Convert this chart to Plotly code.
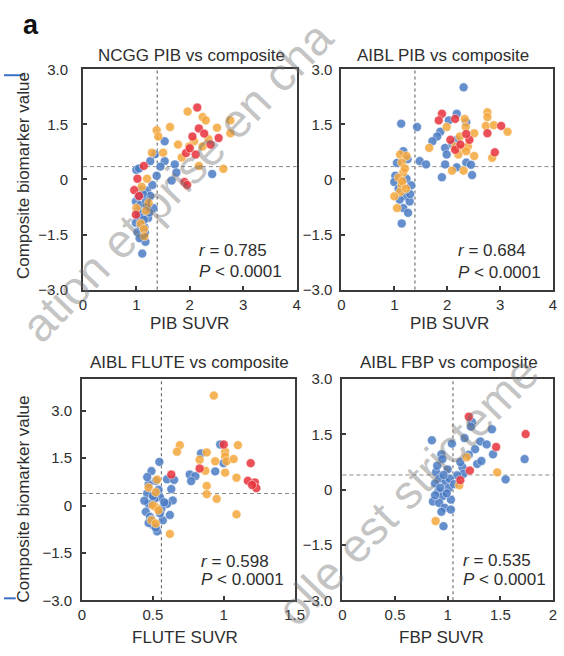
import plotly.graph_objects as go

W, H = 564, 656
def px(x):
    return x / W
def py(y):
    return 1 - y / H

BLUE = "#4a7bc4"
ORANGE = "#f5a73c"
RED = "#e8323c"
FONT = "Liberation Sans, Arial, sans-serif"
INK = "#2e2e2e"

# ---------------- data ----------------
# Panel 1: NCGG PIB vs composite
ncgg_blue_x = [1.53, 1.35, 1.26, 1.53, 1.72, 1.00, 1.75, 2.42, 1.66, 1.05, 1.10, 0.99, 1.04, 1.32, 1.12,
               0.99, 1.02, 1.13, 1.17, 1.11, 1.20, 1.26, 1.09, 1.38, 1.45, 1.07, 1.22, 1.15, 1.30, 1.05, 1.18,
               1.08, 1.14, 1.03, 1.19, 1.12, 1.06, 1.24, 1.16]
ncgg_blue_y = [1.04, 0.69, 0.50, 0.50, 0.41, 0.26, 0.19, 0.15, -0.03, 0.30, -0.29, -0.60, -0.47, -0.78, -0.90,
               -1.18, -1.44, -1.55, -1.70, -2.02, -0.30, -0.45, -0.95, 0.10, 0.35, -0.70, -1.05, -1.30, -0.15, -1.00, -0.60,
               -1.25, -1.10, -0.85, -0.75, -0.40, -1.60, -0.90, -1.45]
ncgg_orange_x = [1.96, 2.24, 2.30, 2.76, 1.63, 1.38, 2.51, 2.76, 1.41, 2.08, 1.78, 1.99, 1.50, 1.29, 2.17,
                 2.63, 1.20, 1.23, 1.00, 1.08, 1.14, 2.24, 1.10, 1.15, 1.18, 1.85, 2.35]
ncgg_orange_y = [1.85, 1.70, 1.61, 1.61, 1.43, 1.34, 1.41, 1.26, 1.17, 1.04, 0.95, 0.90, 0.73, 0.73, 0.37,
                 0.29, 0.02, -0.64, -0.78, -1.20, -1.35, 0.90, -0.20, -1.55, -0.85, 0.60, 1.10]
ncgg_red_x = [2.14, 2.17, 2.05, 2.54, 2.39, 1.93, 2.11, 1.14, 1.90, 1.95, 0.96, 1.02, 0.99, 2.27, 2.00, 1.05]
ncgg_red_y = [1.96, 1.39, 1.17, 1.13, 0.95, 0.72, 0.68, 0.37, -0.07, -0.15, -0.29, 0.02, -0.96, 1.25, 0.85, -0.45]

# Panel 2: AIBL PIB vs composite
aiblpib_blue_x = [2.31, 1.13, 1.43, 2.18, 2.03, 2.36, 1.87, 1.81, 1.72, 1.96, 1.99, 1.48, 1.60, 1.96, 2.18,
                  1.90, 2.47, 2.36, 2.18, 1.02, 1.00, 1.23, 1.32, 1.20, 1.29, 1.17, 1.26, 1.14, 1.17, 1.08,
                  1.25, 2.10, 2.45, 1.05, 1.30, 1.10]
aiblpib_blue_y = [2.51, 1.52, 1.43, 1.79, 1.61, 1.56, 1.30, 1.17, 1.04, 0.86, 0.68, 0.50, 0.41, 0.41, 0.33,
                  0.06, 0.12, 0.46, 1.08, 0.10, -0.07, 0.02, -0.16, -0.46, -0.60, -0.78, -0.91, -1.20, 0.77, -0.25,
                  0.55, 0.95, 0.40, 0.45, -0.40, -0.55]
aiblpib_orange_x = [1.11, 1.23, 1.14, 1.17, 1.14, 1.11, 1.00, 1.05, 1.66, 1.99, 2.33, 2.35, 2.51, 2.24, 2.15,
                    2.30, 2.39, 2.21, 2.36, 2.51, 2.09, 2.31, 2.76, 2.76, 2.73, 2.88, 3.14, 2.85, 1.20, 1.08,
                    1.15, 1.22]
aiblpib_orange_y = [0.68, 0.64, 0.46, 0.19, -0.16, -0.34, -0.46, -0.78, 0.86, 1.43, 1.65, 1.43, 1.26, 1.17, 0.90,
                    0.86, 0.90, 0.68, 0.77, 0.64, 0.24, 0.24, 1.83, 1.70, 1.46, 1.48, 1.30, 0.59, 0.30, 0.05,
                    -0.05, -0.25]
aiblpib_red_x = [1.90, 1.84, 2.15, 2.06, 2.15, 2.42, 2.76, 3.02, 2.90, 2.36, 2.25]
aiblpib_red_y = [1.79, 1.61, 1.65, 1.08, 0.81, 1.08, 1.26, 1.46, 0.74, 1.24, 0.95]

# Panel 3: AIBL FLUTE vs composite
flute_blue_x = [0.975, 0.84, 0.998, 0.94, 0.76, 0.80, 0.77, 0.546, 0.49, 0.60, 0.65, 0.63, 0.52, 0.47, 0.46,
                0.55, 0.64, 0.47, 0.45, 0.48, 0.57, 0.50, 0.53, 0.60, 0.51, 0.56, 0.49, 0.54, 0.62, 0.46, 0.52,
                0.47, 0.50, 0.55, 0.58, 0.44]
flute_blue_y = [1.93, 1.65, 1.34, 1.08, 0.98, 0.93, 0.77, 1.38, 1.09, 0.83, 0.81, 0.52, 0.78, 0.67, 0.38,
                0.26, 0.16, 0.05, -0.20, -0.36, -0.47, -0.62, -0.82, 0.05, 0.20, -0.10, -0.45, 0.50, -0.30, 0.90, -0.70,
                -0.55, 0.30, -0.25, 0.10, 0.15]
flute_orange_x = [0.93, 0.69, 0.67, 1.10, 0.88, 1.01, 1.01, 1.02, 1.07, 0.94, 0.83, 1.01, 0.87, 1.09, 0.88,
                  0.88, 0.95, 1.09, 0.62, 0.53, 0.47, 0.52, 0.52, 0.49, 0.52, 0.50, 0.54]
flute_orange_y = [3.48, 1.91, 1.70, 1.91, 1.68, 1.70, 1.55, 1.40, 1.47, 1.40, 1.45, 1.04, 1.10, 0.88, 0.62,
                  0.36, 0.21, -0.28, -0.90, 0.82, 0.57, 0.42, -0.05, -0.47, -0.57, 0.00, -0.15]
flute_red_x = [1.00, 0.83, 1.19, 1.17, 1.22, 1.23, 0.63, 1.20]
flute_red_y = [1.93, 1.17, 1.34, 0.78, 0.73, 0.55, 0.98, 0.65]

# Panel 4: AIBL FBP vs composite
fbp_blue_x = [1.23, 1.22, 1.42, 1.16, 0.85, 1.04, 1.31, 1.37, 1.43, 1.73, 1.55, 0.94, 0.95, 1.28, 1.32,
              1.14, 0.89, 0.92, 0.88, 0.98, 1.01, 0.91, 0.95, 1.03, 0.86, 0.92, 0.97, 1.03, 0.96, 1.15, 1.09,
              1.26, 0.90, 1.00, 1.20, 0.93, 0.99, 0.94, 1.02, 0.88, 1.06, 0.96, 1.12]
fbp_blue_y = [1.84, 1.71, 1.64, 1.40, 1.34, 1.25, 1.31, 1.23, 0.96, 0.83, 0.28, 0.96, 0.83, 0.70, 0.78,
              0.61, 0.48, 0.30, 0.17, 0.21, 0.04, -0.05, -0.18, -0.27, -0.32, -0.36, -0.49, -0.54, -0.99, 0.43, 0.39,
              1.10, 0.65, 0.55, 0.95, 0.05, -0.10, -0.60, 0.30, -0.15, 0.15, 0.40, 0.75]
fbp_orange_x = [1.18, 1.47, 1.11, 0.885]
fbp_orange_y = [0.88, 0.47, 0.12, -0.85]
fbp_red_x = [1.20, 1.74, 1.46, 1.21, 1.12]
fbp_red_y = [1.98, 1.51, 1.16, 0.52, 0.26]

panel_titles = ["NCGG PIB vs composite", "AIBL PIB vs composite",
                "AIBL FLUTE vs composite", "AIBL FBP vs composite"]
x_titles = ["PIB SUVR", "PIB SUVR", "FLUTE SUVR", "FBP SUVR"]
y_title = "Composite biomarker value"
r_values = ["0.785", "0.684", "0.598", "0.535"]
p_text = "< 0.0001"
x_thresholds = [1.39, 1.39, 0.56, 1.05]
y_thresholds = [0.35, 0.35, 0.38, 0.40]
x_ranges = [[0, 4], [0, 4], [0, 1.5], [0, 2]]
y_ranges = [[-3, 3], [-3, 3], [-3, 4], [-3, 3]]
x_tickvals = [[0, 1, 2, 3, 4], [0, 1, 2, 3, 4], [0, 0.5, 1, 1.5], [0, 0.5, 1, 1.5, 2]]
x_ticktext = [["0", "1", "2", "3", "4"], ["0", "1", "2", "3", "4"],
              ["0", "0.5", "1", "1.5"], ["0", "0.5", "1", "1.5", "2"]]
y_tickvals = [-3, -1.5, 0, 1.5, 3]
y_ticktext = ["\u22123.0", "\u22121.5", "0", "1.5", "3.0"]
watermark_texts = ["ation et prise en cha", "olle est stricteme"]

series = [
    [(ncgg_blue_x, ncgg_blue_y), (ncgg_orange_x, ncgg_orange_y), (ncgg_red_x, ncgg_red_y)],
    [(aiblpib_blue_x, aiblpib_blue_y), (aiblpib_orange_x, aiblpib_orange_y), (aiblpib_red_x, aiblpib_red_y)],
    [(flute_blue_x, flute_blue_y), (flute_orange_x, flute_orange_y), (flute_red_x, flute_red_y)],
    [(fbp_blue_x, fbp_blue_y), (fbp_orange_x, fbp_orange_y), (fbp_red_x, fbp_red_y)],
]
colors = [BLUE, ORANGE, RED]

# ---------------- layout geometry (pixels) ----------------
boxes = [(81, 300, 62, 288), (346, 563, 62, 288), (80, 298, 380, 607), (347, 563, 380, 607)]
title_pos = [(192, 48), (450, 48), (190, 363), (456, 363)]
xtitle_pos = [(190, 323), (457, 323), (186, 645), (449, 645)]
ytitle_pos = [(20, 171), (20, 503)]
stat_pos = [(198, 248, 269), (464, 248, 270), (200, 567, 586), (469, 566, 586)]
ylab_standoff = [10, 4, 5, 5]
watermark_pos = [(177, 177), (414, 494)]

fig = go.Figure()
layout = dict(width=W, height=H, autosize=False, margin=dict(l=0, r=0, t=0, b=0),
              paper_bgcolor="white", plot_bgcolor="white", showlegend=False)

shapes = []
annotations = []
for i in range(4):
    n = "" if i == 0 else str(i + 1)
    xa, ya = "x" + n, "y" + n
    for (sx, sy), c in zip(series[i], colors):
        fig.add_trace(go.Scatter(x=sx, y=sy, xaxis=xa, yaxis=ya, mode="markers",
                                 marker=dict(size=9, color=c, opacity=0.85,
                                             line=dict(width=1, color="rgba(255,255,255,0.55)")),
                                 hoverinfo="skip"))
    x0, x1, y0, y1 = boxes[i]
    common = dict(showline=True, linecolor="#3a3a3a", linewidth=2, mirror=True,
                  ticks="inside", ticklen=4, tickwidth=2, tickcolor="#3a3a3a",
                  showgrid=False, zeroline=False,
                  tickfont=dict(family=FONT, size=15, color=INK))
    layout["xaxis" + n] = dict(common, domain=[px(x0), px(x1)], anchor=ya, range=x_ranges[i],
                               tickmode="array", tickvals=x_tickvals[i], ticktext=x_ticktext[i])
    layout["yaxis" + n] = dict(common, domain=[py(y1), py(y0)], anchor=xa, range=y_ranges[i],
                               tickmode="array", tickvals=y_tickvals, ticktext=y_ticktext,
                               ticklabelstandoff=ylab_standoff[i])
    shapes.append(dict(type="line", xref=xa, yref=ya + " domain", x0=x_thresholds[i], x1=x_thresholds[i],
                       y0=0, y1=1, line=dict(color="#555", width=1, dash="3px,3px"), layer="below"))
    shapes.append(dict(type="line", xref=xa + " domain", yref=ya, x0=0, x1=1, y0=y_thresholds[i],
                       y1=y_thresholds[i], line=dict(color="#8a8a8a", width=1, dash="4px,3px"), layer="below"))
    tx, ty = title_pos[i]
    annotations.append(dict(text=panel_titles[i], x=px(tx), y=py(ty), xref="paper", yref="paper",
                            showarrow=False, xanchor="center", yanchor="middle",
                            font=dict(family=FONT, size=17, color=INK)))
    tx, ty = xtitle_pos[i]
    annotations.append(dict(text=x_titles[i], x=px(tx), y=py(ty), xref="paper", yref="paper",
                            showarrow=False, xanchor="center", yanchor="middle",
                            font=dict(family=FONT, size=17, color=INK)))
    sx_, sr, sp = stat_pos[i]
    annotations.append(dict(text="<i>r</i> = " + r_values[i], x=px(sx_), y=py(sr), xref="paper", yref="paper",
                            showarrow=False, xanchor="left", yanchor="middle",
                            font=dict(family=FONT, size=17, color=INK)))
    annotations.append(dict(text="<i>P</i> " + p_text, x=px(sx_), y=py(sp), xref="paper", yref="paper",
                            showarrow=False, xanchor="left", yanchor="middle",
                            font=dict(family=FONT, size=17, color=INK)))

for (tx, ty) in ytitle_pos:
    annotations.append(dict(text=y_title, x=px(tx), y=py(ty), xref="paper", yref="paper",
                            showarrow=False, textangle=-90, xanchor="center", yanchor="middle",
                            font=dict(family=FONT, size=17, color=INK)))

# panel letter
annotations.append(dict(text="<b>a</b>", x=px(28), y=py(16), xref="paper", yref="paper",
                        showarrow=False, xanchor="center", yanchor="middle",
                        font=dict(family=FONT, size=27, color="#111")))

# watermark
for txt, (wx, wy) in zip(watermark_texts, watermark_pos):
    annotations.append(dict(text=txt, x=px(wx), y=py(wy), xref="paper", yref="paper",
                            showarrow=False, textangle=-46, xanchor="center", yanchor="middle",
                            font=dict(family=FONT, size=47, color="rgba(110,110,110,0.42)")))

# small blue marks at left edge
shapes.append(dict(type="line", xref="paper", yref="paper", x0=0, x1=px(20), y0=py(68), y1=py(68),
                   line=dict(color="#3a6fc8", width=2)))
shapes.append(dict(type="line", xref="paper", yref="paper", x0=0, x1=px(12), y0=py(605), y1=py(605),
                   line=dict(color="#3a6fc8", width=2)))

layout["shapes"] = shapes
layout["annotations"] = annotations
fig.update_layout(**layout)
fig.write_html("out.html")
